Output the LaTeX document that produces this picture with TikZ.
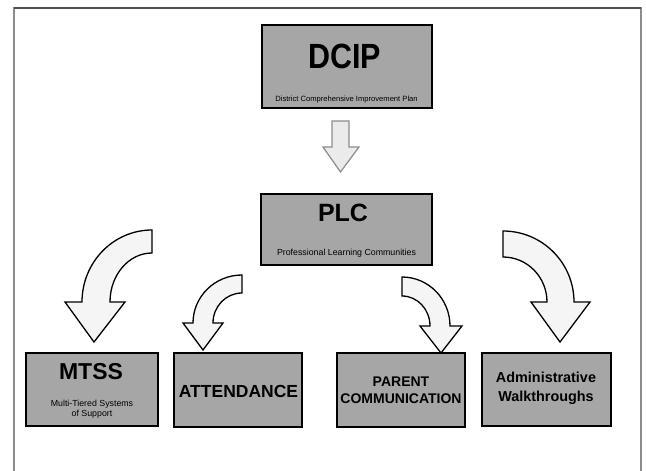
\documentclass[tikz,border=0pt]{standalone}
\usepackage{fontspec}
\setmainfont{Liberation Sans}
\usepackage{graphicx}

\definecolor{boxgray}{RGB}{166,166,166}
\definecolor{arrowfill}{RGB}{245,245,245}
\definecolor{framegray}{RGB}{140,140,140}

\tikzset{every picture/.style={line width=1pt}}
\tikzset{
	planbox/.style={draw=black, fill=boxgray, line width=1.6pt, inner sep=0pt},
	bendarrow/.style={draw=black, fill=arrowfill, line width=1.3pt, line join=miter},
	downarrow/.style={draw={rgb, 255:red, 140; green, 140; blue, 140}, fill={rgb, 255:red, 235; green, 235; blue, 235}, line width=1.2pt},
	label/.style={inner sep=0pt, align=center}}

\begin{document}
\begin{tikzpicture}[x=1pt,y=1pt,yscale=-1,xscale=1]
	\useasboundingbox (0,0) rectangle (646,471);

	%Straight Lines: page frame
	\draw [draw=framegray, line width=1.8pt] (14,471) -- (14,8) -- (641,8) -- (641,471) ;
	\draw [draw={rgb, 255:red, 80; green, 80; blue, 80}, line width=1.2pt] (14,8) -- (641,8) ;

	%Shape: Rectangle [DCIP]
	\node [planbox, minimum width=170, minimum height=83] (dcip) at (347,66.5) {};
	%Shape: Rectangle [PLC]
	\node [planbox, minimum width=171, minimum height=71] (plc) at (346.5,229.5) {};
	%Shape: Rectangle [MTSS]
	\node [planbox, minimum width=132, minimum height=73] (mtss) at (92,389.5) {};
	%Shape: Rectangle [ATTENDANCE]
	\node [planbox, minimum width=128, minimum height=74] (attend) at (238,390) {};
	%Shape: Rectangle [PARENT]
	\node [planbox, minimum width=128, minimum height=74] (parent) at (401,390) {};
	%Shape: Rectangle [Walkthroughs]
	\node [planbox, minimum width=129, minimum height=73] (walk) at (546.5,389.5) {};

	%Shape: Down Arrow [id:dcip-plc]
	\draw [downarrow] (332,121) -- (349,121) -- (349,147) -- (359,147) -- (340.5,172) -- (323,147) -- (332,147) -- cycle ;

	%Curved Arrow [id:plc-mtss]
	\draw [bendarrow] (152,230) arc[start angle=270, end angle=180, x radius=70, y radius=72] -- (65,302) -- (94,342) -- (125,302) -- (110,302) arc[start angle=180, end angle=270, x radius=42, y radius=49] -- cycle ;
	%Curved Arrow [id:plc-attend]
	\draw [bendarrow] (242,275) arc[start angle=270, end angle=180, x radius=49, y radius=48] -- (183,323) -- (203,350) -- (223,323) -- (213,323) arc[start angle=180, end angle=270, x radius=29, y radius=30] -- cycle ;
	%Curved Arrow [id:plc-parent]
	\draw [bendarrow] (402,277) arc[start angle=270, end angle=360, x radius=48, y radius=49] -- (462,326) -- (441,353) -- (420,326) -- (430,326) arc[start angle=0, end angle=-90, x radius=28, y radius=30] -- cycle ;
	%Curved Arrow [id:plc-walk]
	\draw [bendarrow] (503,231) arc[start angle=270, end angle=360, x radius=71, y radius=71] -- (590,302) -- (560,342) -- (531,302) -- (547,302) arc[start angle=0, end angle=-90, x radius=44, y radius=45] -- cycle ;

	% Text Node
	\node [label, font=\fontsize{35}{35}\selectfont\bfseries] (dciptitle) at (344.5,56) {\scalebox{0.87}[1]{DCIP}};
	% Text Node
	\node [label, font=\fontsize{7.6}{8}\selectfont] (dcipsub) at (346.5,100) {District Comprehensive Improvement Plan};
	% Text Node
	\node [label, font=\fontsize{25}{25}\selectfont\bfseries] (plctitle) at (343,213) {PLC};
	% Text Node
	\node [label, font=\fontsize{8.8}{9}\selectfont] (plcsub) at (346.5,253.5) {Professional Learning Communities};
	% Text Node
	\node [label, font=\fontsize{23}{23}\selectfont\bfseries] (mtsstitle) at (91,372) {MTSS};
	% Text Node
	\node [label, font=\fontsize{8.8}{10}\selectfont] (mtsssub) at (92,409.5) {Multi-Tiered Systems\\of Support};
	% Text Node
	\node [label, font=\fontsize{17.5}{18}\selectfont\bfseries] (attendtitle) at (238.5,391) {ATTENDANCE};
	% Text Node
	\node [label, font=\fontsize{14}{17}\selectfont\bfseries] (parenttitle) at (401,390) {PARENT\\COMMUNICATION};
	% Text Node
	\node [label, font=\fontsize{14.4}{19}\selectfont\bfseries] (walktitle) at (546,388) {Administrative\\Walkthroughs};

\end{tikzpicture}
\end{document}
